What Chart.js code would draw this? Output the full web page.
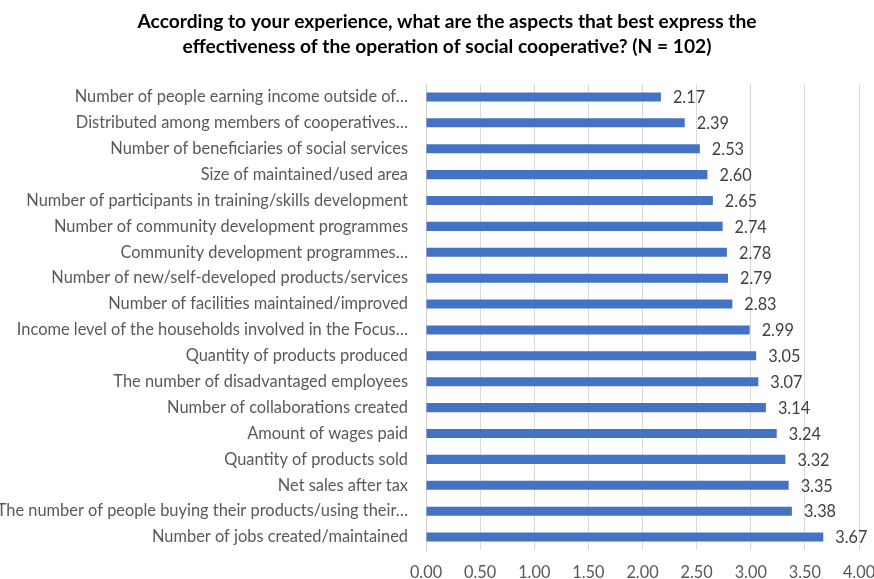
<!DOCTYPE html>
<html>
<head>
<meta charset="utf-8">
<script src="https://cdn.jsdelivr.net/npm/chart.js@4.4.1/dist/chart.umd.min.js"></script>
<style>
  html, body { margin: 0; padding: 0; background: #ffffff; }
  #wrap { width: 874px; height: 579px; position: relative; }
</style>
</head>
<body>
<div id="wrap"><canvas id="chart" width="874" height="579"></canvas></div>
<script>
// Survey aspects, listed top to bottom
const categories = [
  "Number of people earning income outside of…",
  "Distributed among members of cooperatives…",
  "Number of beneficiaries of social services",
  "Size of maintained/used area",
  "Number of participants in training/skills development",
  "Number of community development programmes",
  "Community development programmes…",
  "Number of new/self-developed products/services",
  "Number of facilities maintained/improved",
  "Income level of the households involved in the Focus…",
  "Quantity of products produced",
  "The number of disadvantaged employees",
  "Number of collaborations created",
  "Amount of wages paid",
  "Quantity of products sold",
  "Net sales after tax",
  "The number of people buying their products/using their…",
  "Number of jobs created/maintained"
];

// Mean scores
const scores = [2.17, 2.39, 2.53, 2.60, 2.65, 2.74, 2.78, 2.79, 2.83, 2.99,
                3.05, 3.07, 3.14, 3.24, 3.32, 3.35, 3.38, 3.67];

const titleLines = [
  "According to your experience, what are the aspects that best express the",
  "effectiveness of the operation of social cooperative? (N = 102)"
];

const xMin = 0, xMax = 4, xStep = 0.5;

const FONT = "Lato, 'Open Sans', sans-serif";

// Two-line heading, centred a little right of the canvas middle
const heading = {
  id: 'heading',
  afterDraw(chart) {
    const ctx = chart.ctx;
    ctx.save();
    ctx.font = "bold 19.2px " + FONT;
    ctx.fillStyle = "#000000";
    ctx.textAlign = "center";
    ctx.textBaseline = "middle";
    titleLines.forEach((line, i) => ctx.fillText(line, 447, 22 + i * 25));
    ctx.restore();
  }
};

// Writes each bar's value just past its end
const valueLabels = {
  id: 'valueLabels',
  afterDatasetsDraw(chart) {
    const ctx = chart.ctx;
    const meta = chart.getDatasetMeta(0);
    ctx.save();
    ctx.font = "16.3px " + FONT;
    ctx.fillStyle = "#404040";
    ctx.textAlign = "left";
    ctx.textBaseline = "middle";
    meta.data.forEach((bar, i) => {
      const v = chart.data.datasets[0].data[i];
      ctx.fillText(v.toFixed(2), bar.x + 12, bar.y + 1);
    });
    ctx.restore();
  }
};

new Chart(document.getElementById('chart'), {
  type: 'bar',
  data: {
    labels: categories,
    datasets: [{
      data: scores,
      backgroundColor: '#4472C4',
      borderWidth: 0,
      categoryPercentage: 1,
      barPercentage: 0.35
    }]
  },
  options: {
    indexAxis: 'y',
    responsive: false,
    animation: false,
    layout: { padding: { left: 0, right: 0, top: 84, bottom: 0 } },
    plugins: {
      legend: { display: false },
      tooltip: { enabled: false },
      title: { display: false }
    },
    scales: {
      x: {
        min: xMin,
        max: xMax,
        border: { display: false },
        grid: { color: '#d9d9d9', drawTicks: false, lineWidth: 1 },
        ticks: {
          stepSize: xStep,
          color: '#595959',
          padding: 13,
          maxRotation: 0,
          font: { family: FONT, size: 16.3 },
          callback: (v) => Number(v).toFixed(2)
        },
        afterFit(scale) {
          scale.height = 29;
          scale.paddingLeft = 0;
          scale.paddingRight = 15;
        }
      },
      y: {
        border: { display: true, color: '#cfcfcf', width: 1 },
        grid: { display: false, drawTicks: false },
        ticks: {
          color: '#595959',
          padding: 18,
          autoSkip: false,
          font: { family: FONT, size: 16.4 }
        },
        afterFit(scale) { scale.width = 426; }
      }
    }
  },
  plugins: [valueLabels, heading]
});
</script>
</body>
</html>
